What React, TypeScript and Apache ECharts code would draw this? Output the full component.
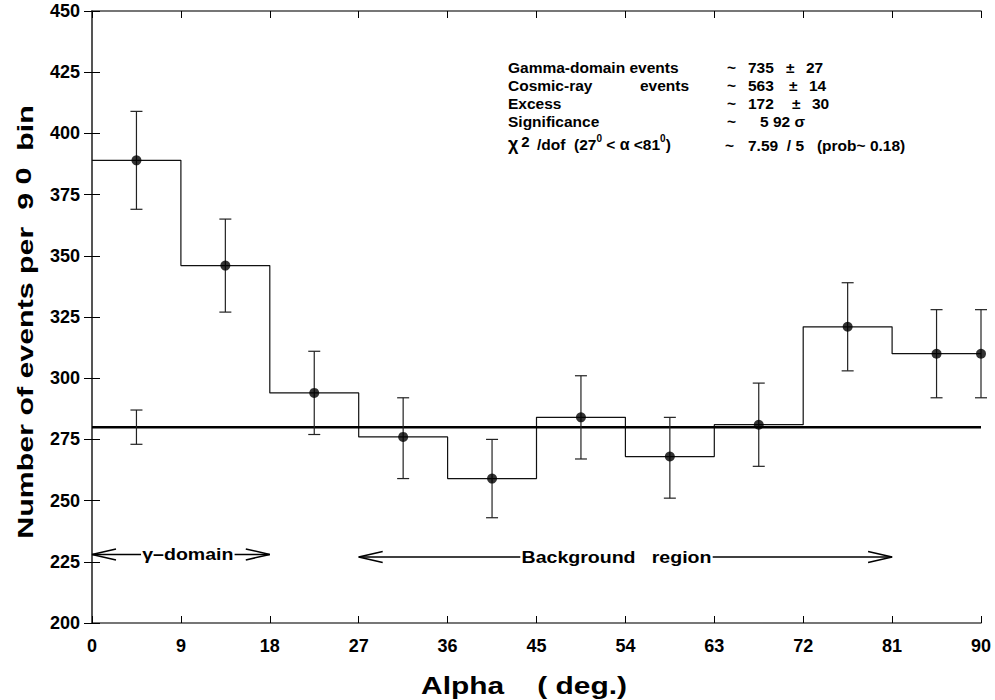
import React, { useEffect, useRef } from "react";
import * as echarts from "echarts";

// ---------------- data ----------------
const binEdges = [0, 9, 18, 27, 36, 45, 54, 63, 72, 81, 90];
const counts = [389, 346, 294, 276, 259, 284, 268, 281, 321, 310];
const errLow = [369, 327, 277, 259, 243, 267, 251, 264, 303, 292];
const errHigh = [409, 365, 311, 292, 275, 301, 284, 298, 339, 328];

// extra point plotted at the right edge
const edgePointX = [90];
const edgePointY = [310];
const edgePointLow = [292];
const edgePointHigh = [328];

// background estimate error bar in gamma bin (no dot)
const bgBarX = [4.5];
const bgBarLow = [273];
const bgBarHigh = [287];

const backgroundLevel = 280;

const xTicks = [0, 9, 18, 27, 36, 45, 54, 63, 72, 81, 90];
const yTicks = [200, 225, 250, 275, 300, 325, 350, 375, 400, 425, 450];

const xTitle = "Alpha    ( deg.)";
const yTitleMain = "Number of events per  9";
const yTitleSup = " 0";
const yTitleEnd = "  bin";

// region arrows
const arrowStarts = [0, 27];
const arrowEnds = [18, 81];
const arrowLevels = [228, 227];
const arrowLabels = ["γ–domain", "Background   region"];
const arrowLabelAt = [9.7, 53.1];

// annotation block
const annLabels = ["Gamma-domain events", "Cosmic-ray", "Excess", "Significance"];
const annMid = ["", "events", "", ""];
const annValues = ["735", "563", "172", "5 92 σ"];
const annErrors = ["27", "14", "30", ""];
const chiValue = "7.59  / 5   (prob~ 0.18)";

const FONT = "'Liberation Sans', Arial, Helvetica, sans-serif";

export default function App() {
  const ref = useRef<HTMLDivElement>(null);

  useEffect(() => {
    document.body.style.margin = "0";
    if (!ref.current) return;
    const chart = echarts.init(ref.current, null, { renderer: "svg" });

    const centers = counts.map((_, i) => (binEdges[i] + binEdges[i + 1]) / 2);

    // step histogram outline
    const stepData: number[][] = [];
    counts.forEach((c, i) => {
      stepData.push([binEdges[i], c]);
      stepData.push([binEdges[i + 1], c]);
    });

    const dotData = centers.map((x, i) => [x, counts[i]]);
    edgePointX.forEach((x, i) => dotData.push([x, edgePointY[i]]));

    const errData = centers.map((x, i) => [x, errLow[i], errHigh[i]]);
    edgePointX.forEach((x, i) => errData.push([x, edgePointLow[i], edgePointHigh[i]]));
    bgBarX.forEach((x, i) => errData.push([x, bgBarLow[i], bgBarHigh[i]]));

    const arrowData = arrowStarts.map((s, i) => [s, arrowEnds[i], arrowLevels[i], arrowLabelAt[i], i]);

    const axisLineStyle = { color: "#4a4a4a", width: 1.5 };
    const labelStyle = { fontFamily: FONT, fontWeight: "bold" as const, fontSize: 18, color: "#000" };

    // annotation graphics
    const rowY = [67, 85, 103, 121];
    const annFont = { fontFamily: FONT, fontWeight: "bold", fontSize: 15.5, fill: "#000" };
    const graphics: any[] = [];
    annLabels.forEach((lab, i) => {
      graphics.push({ type: "text", x: 508, y: rowY[i], style: { ...annFont, text: lab, verticalAlign: "middle" } });
      if (annMid[i]) graphics.push({ type: "text", x: 640, y: rowY[i], style: { ...annFont, text: annMid[i], verticalAlign: "middle" } });
      graphics.push({ type: "text", x: 727, y: rowY[i], style: { ...annFont, text: "~", verticalAlign: "middle" } });
      const vx = annErrors[i] ? 748 : 760;
      graphics.push({ type: "text", x: vx, y: rowY[i], style: { ...annFont, text: annValues[i], verticalAlign: "middle" } });
      if (annErrors[i]) {
        graphics.push({ type: "text", x: 786 + i * 3, y: rowY[i], style: { ...annFont, text: "±", verticalAlign: "middle" } });
        graphics.push({ type: "text", x: 806 + i * 3, y: rowY[i], style: { ...annFont, text: annErrors[i], verticalAlign: "middle" } });
      }
    });
    // chi-square line with superscripts
    graphics.push({
      type: "text",
      x: 508,
      y: 143,
      style: {
        text: "{c|χ}{s2|2}{n| /dof  (27}{s|0}{n| < }{a|α}{n| <81}{s|0}{n|)}",
        verticalAlign: "middle",
        rich: {
          c: { fontFamily: FONT, fontWeight: "bold", fontSize: 18, verticalAlign: "bottom", lineHeight: 19 },
          s2: { fontFamily: FONT, fontWeight: "bold", fontSize: 15, verticalAlign: "top", lineHeight: 15, padding: [0, 3, 9, 3] },
          n: { fontFamily: FONT, fontWeight: "bold", fontSize: 15.5, verticalAlign: "bottom", lineHeight: 18 },
          a: { fontFamily: FONT, fontWeight: "bold", fontSize: 16, verticalAlign: "bottom", lineHeight: 18 },
          s: { fontFamily: FONT, fontWeight: "bold", fontSize: 10, verticalAlign: "top", lineHeight: 10, padding: [0, 0, 12, 0] },
        },
      },
    });
    graphics.push({ type: "text", x: 725, y: 145, style: { ...annFont, text: "~", verticalAlign: "middle" } });
    graphics.push({ type: "text", x: 748, y: 145, style: { ...annFont, text: chiValue, verticalAlign: "middle" } });

    // axis titles (horizontally stretched like the original)
    graphics.push({
      type: "text",
      x: 524,
      y: 686,
      scaleX: 1.3,
      style: {
        text: xTitle,
        fontFamily: FONT,
        fontWeight: "bold",
        fontSize: 23,
        fill: "#000",
        align: "center",
        verticalAlign: "middle",
      },
    });
    graphics.push({
      type: "text",
      x: 25,
      y: 322,
      rotation: Math.PI / 2,
      scaleX: 1.38,
      style: {
        text: `{a|${yTitleMain}}{s|${yTitleSup}}{a|${yTitleEnd}}`,
        align: "center",
        verticalAlign: "middle",
        rich: {
          a: { fontFamily: FONT, fontWeight: "bold", fontSize: 22, fill: "#000", verticalAlign: "bottom", lineHeight: 24 },
          s: { fontFamily: FONT, fontWeight: "bold", fontSize: 22, fill: "#000", verticalAlign: "top", lineHeight: 24, padding: [0, 0, 6, 0] },
        },
      },
    });

    const option: any = {
      animation: false,
      backgroundColor: "#fff",
      grid: { left: 92, right: 14, top: 11, bottom: 77, outerBoundsMode: "none" },
      xAxis: [
        {
          type: "value",
          min: xTicks[0],
          max: xTicks[xTicks.length - 1],
          interval: 9,
          axisLine: { show: true, lineStyle: axisLineStyle },
          axisTick: { show: true, inside: true, length: 7, lineStyle: { color: "#000", width: 1 } },
          axisLabel: { ...labelStyle, margin: 14 },
          splitLine: { show: false },
        },
        {
          type: "value",
          position: "top",
          min: xTicks[0],
          max: xTicks[xTicks.length - 1],
          interval: 9,
          axisLine: { show: true, lineStyle: axisLineStyle },
          axisTick: { show: true, inside: true, length: 7, lineStyle: { color: "#000", width: 1 } },
          axisLabel: { show: false },
          splitLine: { show: false },
        },
      ],
      yAxis: [
        {
          type: "value",
          min: yTicks[0],
          max: yTicks[yTicks.length - 1],
          interval: 25,
          axisLine: { show: true, lineStyle: axisLineStyle },
          axisTick: { show: true, inside: true, length: 8, lineStyle: { color: "#000", width: 1 } },
          axisLabel: { ...labelStyle, margin: 12 },
          splitLine: { show: false },
        },
        {
          type: "value",
          position: "right",
          min: yTicks[0],
          max: yTicks[yTicks.length - 1],
          interval: 25,
          axisLine: { show: true, lineStyle: axisLineStyle },
          axisTick: { show: true, inside: true, length: 8, lineStyle: { color: "#000", width: 1 } },
          axisLabel: { show: false },
          splitLine: { show: false },
        },
      ],
      series: [
        {
          name: "histogram",
          type: "line",
          data: stepData,
          showSymbol: false,
          symbol: "none",
          lineStyle: { color: "#111", width: 1.2 },
          z: 2,
        },
        {
          name: "background",
          type: "line",
          data: [
            [xTicks[0], backgroundLevel],
            [xTicks[xTicks.length - 1], backgroundLevel],
          ],
          symbol: "none",
          lineStyle: { color: "#000", width: 2.5 },
          z: 3,
        },
        {
          name: "errors",
          type: "custom",
          data: errData,
          encode: { x: 0, y: [1, 2] },
          clip: false,
          z: 4,
          renderItem: (params: any, api: any) => {
            const x = api.value(0);
            const lo = api.coord([x, api.value(1)]);
            const hi = api.coord([x, api.value(2)]);
            const hw = 6;
            const st = { stroke: "#222", lineWidth: 1.2 };
            return {
              type: "group",
              children: [
                { type: "line", shape: { x1: lo[0], y1: lo[1], x2: hi[0], y2: hi[1] }, style: st },
                { type: "line", shape: { x1: lo[0] - hw, y1: lo[1], x2: lo[0] + hw, y2: lo[1] }, style: st },
                { type: "line", shape: { x1: hi[0] - hw, y1: hi[1], x2: hi[0] + hw, y2: hi[1] }, style: st },
              ],
            };
          },
        },
        {
          name: "points",
          type: "scatter",
          data: dotData,
          symbol: "circle",
          symbolSize: 10,
          itemStyle: { color: "#000" },
          clip: false,
          z: 5,
        },
        {
          name: "arrows",
          type: "custom",
          data: arrowData,
          encode: { x: [0, 1], y: 2 },
          clip: false,
          z: 6,
          renderItem: (params: any, api: any) => {
            const y = api.value(2);
            const p0 = api.coord([api.value(0), y]);
            const p1 = api.coord([api.value(1), y]);
            const pt = api.coord([api.value(3), y]);
            const idx = api.value(4);
            const st = { stroke: "#000", lineWidth: 1.5, fill: "none" };
            const L = 24;
            const H = 5.5;
            return {
              type: "group",
              children: [
                { type: "line", shape: { x1: p0[0], y1: p0[1], x2: p1[0], y2: p1[1] }, style: st },
                {
                  type: "polyline",
                  shape: { points: [[p0[0] + L, p0[1] - H], [p0[0], p0[1]], [p0[0] + L, p0[1] + H]] },
                  style: st,
                },
                {
                  type: "polyline",
                  shape: { points: [[p1[0] - L, p1[1] - H], [p1[0], p1[1]], [p1[0] - L, p1[1] + H]] },
                  style: st,
                },
                {
                  type: "text",
                  x: pt[0],
                  y: pt[1],
                  scaleX: 1.15,
                  style: {
                    text: arrowLabels[idx],
                    fontFamily: FONT,
                    fontWeight: "bold",
                    fontSize: 17,
                    fill: "#000",
                    align: "center",
                    verticalAlign: "middle",
                    backgroundColor: "#fff",
                    padding: [0, 1],
                  },
                },
              ],
            };
          },
        },
      ],
      graphic: graphics,
    };

    chart.setOption(option);
    return () => chart.dispose();
  }, []);

  return <div ref={ref} style={{ width: 995, height: 700 }} />;
}
